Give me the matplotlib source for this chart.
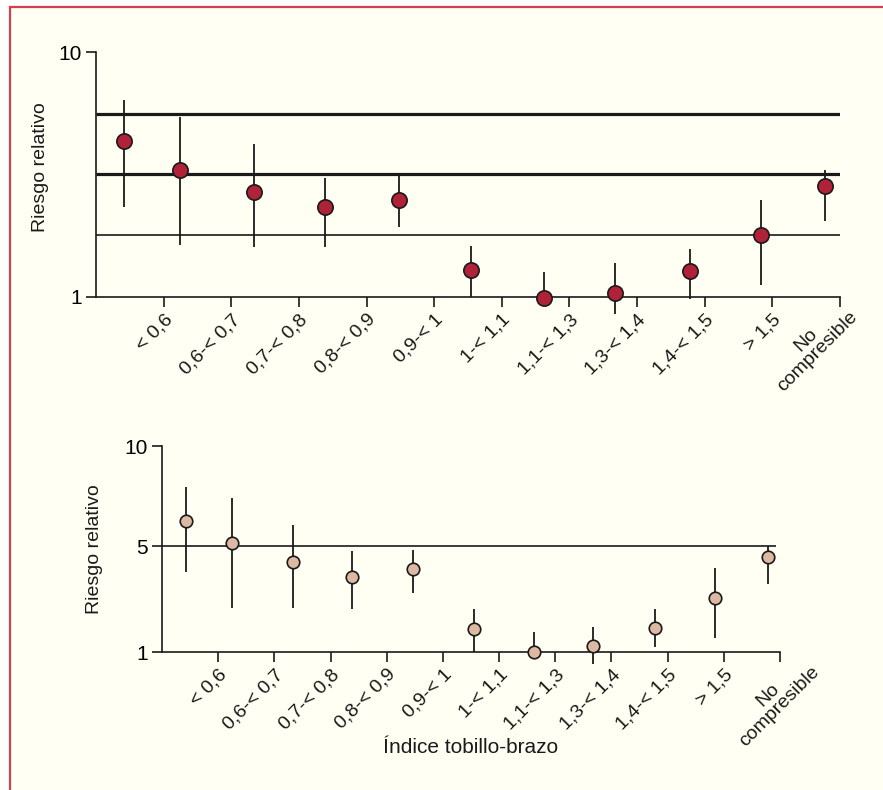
import numpy as np
import matplotlib
matplotlib.use("Agg")
import matplotlib.pyplot as plt
from matplotlib.patches import Rectangle

plt.rcParams['font.family'] = ['Liberation Sans Narrow', 'Liberation Sans', 'DejaVu Sans']

# categories (indice tobillo-brazo)
categories = ['< 0,6', '0,6-< 0,7', '0,7-< 0,8', '0,8-< 0,9', '0,9-< 1',
              '1-< 1,1', '1,1-< 1,3', '1,3-< 1,4', '1,4-< 1,5', '> 1,5',
              'No\ncompresible']
# x position of each estimate inside its slot
x_pos = [0.42, 1.245, 2.33, 3.39, 4.475, 5.55, 6.63, 7.67, 8.775, 9.835, 10.785]

# top panel: relative risk with CI
rr_top = [4.33, 3.30, 2.68, 2.33, 2.49, 1.29, 0.99, 1.04, 1.28, 1.79, 2.84]
lo_top = [2.33, 1.63, 1.60, 1.60, 1.93, 1.00, 0.95, 0.85, 0.98, 1.12, 2.04]
hi_top = [6.37, 5.43, 4.21, 3.06, 3.15, 1.61, 1.26, 1.38, 1.57, 2.49, 3.30]
ref_top = [5.58, 3.18, 1.79]
ref_top_lw = [2.3, 2.3, 1.2]

# bottom panel
rr_bot = [6.23, 5.13, 4.38, 3.84, 4.12, 1.87, 1.00, 1.21, 1.91, 3.04, 4.58]
lo_bot = [4.03, 2.65, 2.65, 2.62, 3.22, 1.00, 0.98, 0.54, 1.20, 1.54, 3.55]
hi_bot = [7.97, 7.38, 6.05, 4.81, 4.85, 2.61, 1.74, 1.95, 2.63, 4.16, 5.01]
ref_bot = [5]

bg = '#FFFFF3'
ink = '#1a1a1a'
red = '#B02238'
tan = '#DDB8A2'

fig = plt.figure(figsize=(8.83, 7.9), dpi=100, facecolor='white')
fig.patches.append(Rectangle((10 / 883, -0.05), 1.1, 1 - 7 / 790 + 0.05,
                             transform=fig.transFigure, facecolor=bg,
                             edgecolor='#D0404F', linewidth=1.6, zorder=-10))

ax1 = fig.add_axes([96 / 883, 1 - 297 / 790, (840 - 96) / 883, (297 - 52) / 790])
ax2 = fig.add_axes([162 / 883, 1 - 652 / 790, (780 - 162) / 883, (652 - 446) / 790])


# piecewise linear y scale used in the lower panel
def fwd(v):
    v = np.asarray(v, dtype=float)
    return np.where(v < 5, (v - 1) / 4 * 106, 106 + (v - 5) / 5 * 100)


def inv(p):
    p = np.asarray(p, dtype=float)
    return np.where(p < 106, 1 + p / 106 * 4, 5 + (p - 106) / 100 * 5)


def style(ax, last_offset):
    ax.set_facecolor('none')
    for s in ['top', 'right']:
        ax.spines[s].set_visible(False)
    for s in ['left', 'bottom']:
        ax.spines[s].set_linewidth(1.2)
        ax.spines[s].set_color(ink)
    ax.set_xlim(0, 11)
    ax.set_xticks(range(1, 12))
    ax.set_xticklabels([])
    ax.tick_params(axis='both', which='major', direction='out', length=7,
                   width=1.2, color=ink, labelsize=15, pad=3)
    ax.tick_params(axis='both', which='minor', length=0)
    # category labels rotated, anchored at the slot's right tick
    for i, lab in enumerate(categories):
        off = (0, -10) if i < len(categories) - 1 else last_offset
        ax.annotate(lab, xy=(i + 1, 0), xycoords=('data', 'axes fraction'),
                    xytext=off, textcoords='offset points',
                    rotation=45, ha='right', va='top', rotation_mode='anchor',
                    ma='center', fontsize=14, color=ink, linespacing=0.95,
                    annotation_clip=False)


def draw(ax, rr, lo, hi, color, ms):
    rr = np.array(rr)
    yerr = [rr - np.array(lo), np.array(hi) - rr]
    ax.errorbar(x_pos, rr, yerr=yerr, fmt='o', color=ink, ecolor=ink,
                elinewidth=1.3, capsize=0, markersize=ms,
                markerfacecolor=color, markeredgecolor=ink,
                markeredgewidth=1.2, clip_on=False, zorder=3)


# top panel
ax1.set_yscale('log')
ax1.set_ylim(1, 10)
for y, lw in zip(ref_top, ref_top_lw):
    ax1.hlines(y, 0, 11, color=ink, linewidth=lw, zorder=1)
draw(ax1, rr_top, lo_top, hi_top, red, 11)
style(ax1, (-2, 0))
ax1.set_yticks([1, 10])
ax1.set_yticklabels(['1', '10'])
ax1.yaxis.set_minor_locator(matplotlib.ticker.NullLocator())
ax1.set_ylabel('Riesgo relativo', fontsize=14, color=ink)
ax1.yaxis.set_label_coords(-0.063, 0.53)

# bottom panel
ax2.set_yscale('function', functions=(fwd, inv))
ax2.set_ylim(1, 10)
for y in ref_bot:
    ax2.hlines(y, 0, 10.93, color=ink, linewidth=1.2, zorder=1)
draw(ax2, rr_bot, lo_bot, hi_bot, tan, 9)
style(ax2, (14, 0))
ax2.set_yticks([1, 5, 10])
ax2.set_yticklabels(['1', '5', '10'])
ax2.yaxis.set_minor_locator(matplotlib.ticker.NullLocator())
ax2.set_ylabel('Riesgo relativo', fontsize=14, color=ink)
ax2.yaxis.set_label_coords(-0.095, 0.5)
ax2.set_xlabel('Índice tobillo-brazo', fontsize=15, color=ink, labelpad=52)

fig.savefig('out.png', dpi=100, facecolor=fig.get_facecolor())
